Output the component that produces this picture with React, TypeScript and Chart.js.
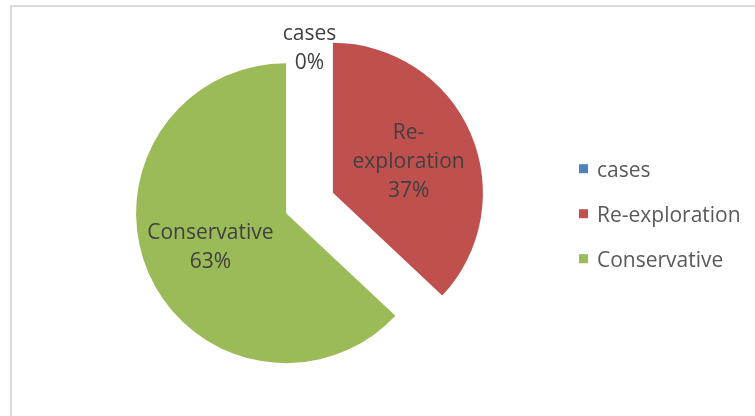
import React, { useEffect, useRef } from "react";
import { Chart, registerables } from "chart.js";

Chart.register(...registerables);

// ---- data ----
const categories = ["cases", "Re-exploration", "Conservative"];
const values = [0, 37, 63];
const colors = ["#4F81BD", "#C0504D", "#9BBB59"];

const FONT = "'Open Sans', 'Noto Sans', sans-serif";

const explodePlugin = {
  id: "explode",
  afterDatasetUpdate(chart: any, args: any, opts: any) {
    const E = opts.distance || 0;
    args.meta.data.forEach((arc: any) => {
      const mid = (arc.startAngle + arc.endAngle) / 2;
      arc.x += Math.cos(mid) * E;
      arc.y += Math.sin(mid) * E;
    });
  },
};

const sliceLabelPlugin = {
  id: "sliceLabels",
  afterDatasetsDraw(chart: any) {
    const ctx = chart.ctx;
    const meta = chart.getDatasetMeta(0);
    const data = chart.data.datasets[0].data as number[];
    const total = data.reduce((a, b) => a + b, 0);
    ctx.save();
    ctx.font = `21px ${FONT}`;
    ctx.fillStyle = "#404040";
    ctx.textAlign = "center";
    ctx.textBaseline = "alphabetic";
    meta.data.forEach((arc: any, i: number) => {
      const R = arc.outerRadius;
      const mid = (arc.startAngle + arc.endAngle) / 2;
      const d = data[i] > 0 ? R * 0.55 : R * 0.87;
      const cx = arc.x + Math.cos(mid) * d;
      const cy = arc.y + Math.sin(mid) * d;
      const name = String(chart.data.labels[i]);
      let lines: string[] = [name];
      if (ctx.measureText(name).width > 135) {
        const idx = name.indexOf("-") >= 0 ? name.indexOf("-") : name.indexOf(" ");
        if (idx >= 0) lines = [name.slice(0, idx + 1).trim(), name.slice(idx + 1).trim()];
      }
      lines.push(Math.round((data[i] / total) * 100) + "%");
      const lh = 29;
      lines.forEach((t, k) => {
        ctx.fillText(t, cx, cy - ((lines.length - 1) / 2) * lh + k * lh + 7.5);
      });
    });
    ctx.restore();
  },
};

const legendPlugin = {
  id: "sideLegend",
  afterDraw(chart: any) {
    const ctx = chart.ctx;
    const ds = chart.data.datasets[0];
    const x0 = 579;
    const y0 = 168.7;
    const step = 45;
    const box = 9;
    ctx.save();
    ctx.font = `21px ${FONT}`;
    ctx.textAlign = "left";
    ctx.textBaseline = "alphabetic";
    chart.data.labels.forEach((lab: string, i: number) => {
      const y = y0 + i * step;
      ctx.fillStyle = ds.backgroundColor[i];
      ctx.fillRect(x0, y - box / 2, box, box);
      ctx.fillStyle = "#595959";
      ctx.fillText(lab, x0 + 18, y + 8);
    });
    ctx.restore();
  },
};

export default function App() {
  const ref = useRef<HTMLCanvasElement | null>(null);
  useEffect(() => {
    if (!ref.current) return;
    const chart = new Chart(ref.current, {
      type: "pie",
      data: {
        labels: categories,
        datasets: [
          {
            data: values,
            backgroundColor: colors,
            borderWidth: 0,
          },
        ],
      },
      options: {
        responsive: false,
        animation: false,
        events: [],
        radius: 150,
        layout: { padding: { left: 0, right: 136, top: 0, bottom: 10 } },
        plugins: {
          legend: { display: false },
          tooltip: { enabled: false },
          explode: { distance: 25.5 },
        } as any,
      },
      plugins: [explodePlugin, sliceLabelPlugin, legendPlugin],
    });
    return () => chart.destroy();
  }, []);
  return (
    <div>
      <div
        style={{
          position: "fixed",
          left: 10,
          top: 5,
          width: 800,
          height: 500,
          border: "2px solid #d9d9d9",
          boxSizing: "border-box",
        }}
      />
      <canvas
        ref={ref}
        width={755}
        height={416}
        style={{ position: "fixed", left: 0, top: 0, display: "block" }}
      />
    </div>
  );
}
